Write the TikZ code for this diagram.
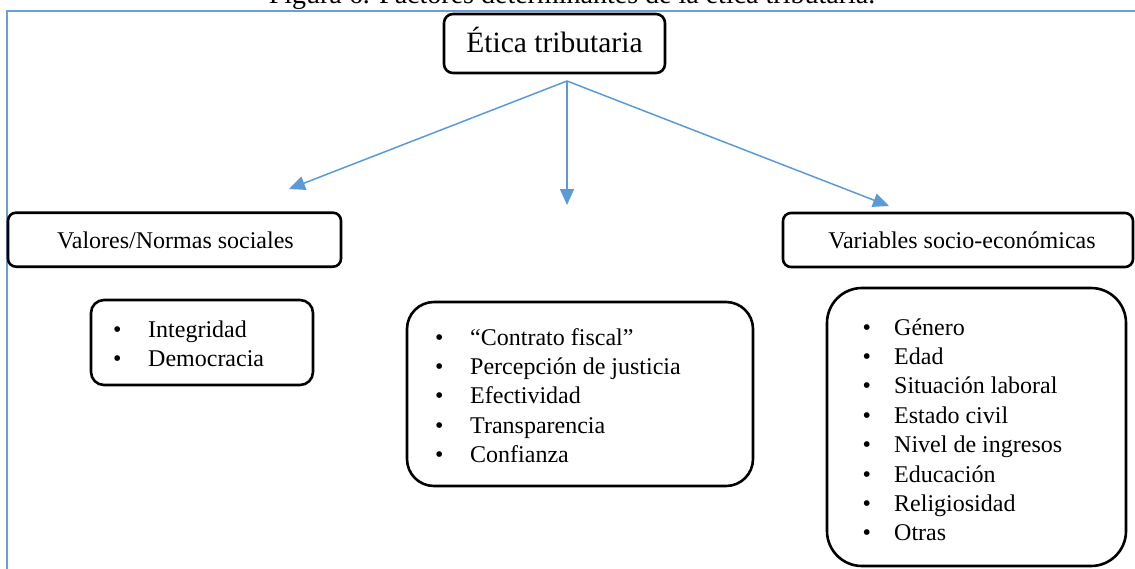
\documentclass[tikz,border=0pt]{standalone}
\usepackage{fontspec}
\setmainfont{Liberation Serif}
\usetikzlibrary{arrows.meta}
\definecolor{lineblue}{HTML}{5B9BD5}
\definecolor{frameblue}{HTML}{6A9FDA}
\tikzset{
  boxshape/.style={draw=black, line width=2.6pt, inner sep=0pt},
  hdr/.style={inner sep=0pt, font=\fontsize{24}{29.4}\selectfont},
  listtxt/.style={inner sep=0pt, anchor=base west, font=\fontsize{24}{29.4}\selectfont},
  arr/.style={draw=lineblue, line width=1.5pt, -{Triangle[length=16pt,width=14pt]}},
  frame/.style={draw=frameblue, line width=2.6pt}
}
\newcommand{\bl}[1]{\makebox[#1][l]{\textbullet}}
\begin{document}
\begin{tikzpicture}[x=1pt,y=-1pt]
\useasboundingbox (0,0) rectangle (1135,568);
\clip (0,0) rectangle (1135,568);
\fill[white] (0,0) rectangle (1135,568);
% caption (cut off at top)
\node[inner sep=0pt, anchor=base, font=\fontsize{28}{30}\selectfont] (cap) at (572,3) {Figura 6. Factores determinantes de la ética tributaria.};
% frame
\draw[frame] (7,570) -- (7,11) -- (1137,11);
% title
\node[boxshape, rounded corners=9pt, minimum width=221pt, minimum height=59pt] (titlebox) at (554.5,43.5) {};
\node[inner sep=0pt, anchor=base, font=\fontsize{29.5}{34}\selectfont] (title) at (554.5,52.3) {Ética tributaria};
% headers
\node[boxshape, rounded corners=8pt, minimum width=333pt, minimum height=54pt] (valbox) at (174.5,239.7) {};
\node[hdr, anchor=base] (val) at (175.5,248.5) {Valores/Normas sociales};
\node[boxshape, rounded corners=8pt, minimum width=350pt, minimum height=54pt] (varbox) at (958,240) {};
\node[hdr, anchor=base] (var) at (962,248.5) {Variables socio-económicas};
% list boxes
\node[boxshape, rounded corners=13pt, minimum width=222pt, minimum height=85pt] (b1) at (202,342.5) {};
\node[listtxt] (l1) at (113,337.3) {\begin{tabular}[t]{@{}l@{}}\bl{35pt}Integridad\\ \bl{35pt}Democracia\end{tabular}};
\node[boxshape, rounded corners=27pt, minimum width=346pt, minimum height=184pt] (b2) at (580,394) {};
\node[listtxt] (l2) at (435,345) {\begin{tabular}[t]{@{}l@{}}\bl{35pt}“Contrato fiscal”\\ \bl{35pt}Percepción de justicia\\ \bl{35pt}Efectividad\\ \bl{35pt}Transparencia\\ \bl{35pt}Confianza\end{tabular}};
\node[boxshape, rounded corners=35pt, minimum width=299pt, minimum height=278pt] (b3) at (976.5,427) {};
\node[listtxt] (l3) at (862.5,335) {\begin{tabular}[t]{@{}l@{}}\bl{31.5pt}Género\\ \bl{31.5pt}Edad\\ \bl{31.5pt}Situación laboral\\ \bl{31.5pt}Estado civil\\ \bl{31.5pt}Nivel de ingresos\\ \bl{31.5pt}Educación\\ \bl{31.5pt}Religiosidad\\ \bl{31.5pt}Otras\end{tabular}};
% arrows
\coordinate (hub) at (567,81);
\coordinate (tipL) at (289,189);
\coordinate (tipM) at (567,205);
\coordinate (tipR) at (889,206);
\draw[arr] (hub) -- (tipL);
\draw[arr] (hub) -- (tipM);
\draw[arr] (hub) -- (tipR);
\end{tikzpicture}
\end{document}
